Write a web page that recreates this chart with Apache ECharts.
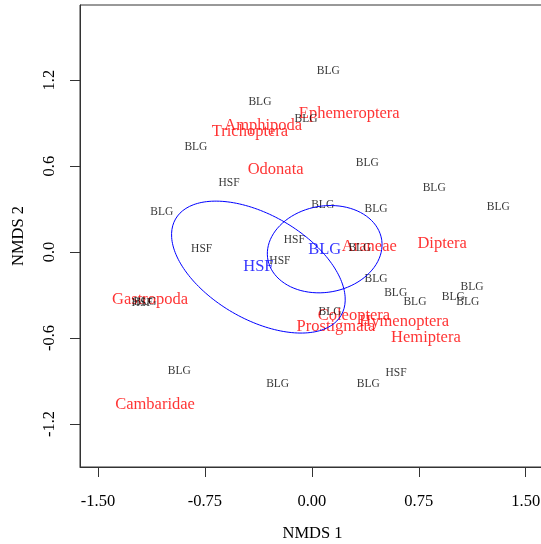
<!DOCTYPE html>
<html><head><meta charset="utf-8">
<script src="https://cdn.jsdelivr.net/npm/echarts@6/dist/echarts.min.js"></script>
<style>html,body{margin:0;padding:0;background:#fff}#c{width:541px;height:544px}</style>
</head><body><div id="c"></div>
<script>
// ---- data (NMDS scores) ----
const xTicks = [-1.5, -0.75, 0, 0.75, 1.5];
const yTicks = [-1.2, -0.6, 0, 0.6, 1.2];

const siteNames = ['BLG','BLG','BLG','BLG','HSF','BLG','BLG','BLG','BLG','BLG','BLG','HSF','HSF','HSF','BLG','BLG','BLG','BLG','BLG','BLG','BLG','BLG','BLG','HSF','BLG','BLG','BLG','HSF'];
const siteX = [0.115,-0.364,-0.041,-0.813,-0.581,0.389,0.858,1.307,0.076,0.450,-1.053,-0.773,-0.123,-0.224,0.337,0.450,0.588,0.723,0.992,1.123,1.093,0.127,-1.170,-1.190,-0.930,-0.240,0.396,0.590];
const siteY = [1.263,1.047,0.928,0.735,0.484,0.623,0.447,0.316,0.328,0.298,0.277,0.021,0.082,-0.061,0.026,-0.191,-0.288,-0.349,-0.312,-0.246,-0.349,-0.417,-0.350,-0.355,-0.828,-0.923,-0.921,-0.842];

const speciesNames = ['Ephemeroptera','Amphipoda','Trichoptera','Odonata','Araneae','Diptera','Gastropoda','Coleoptera','Prostigmata','Hymenoptera','Hemiptera','Cambaridae'];
const speciesX = [0.262,-0.341,-0.434,-0.254,0.403,0.914,-1.135,0.295,0.169,0.648,0.800,-1.100];
const speciesY = [0.963,0.879,0.839,0.572,0.037,0.056,-0.335,-0.445,-0.521,-0.486,-0.598,-1.068];

const groupNames = ['HSF','BLG'];
const groupX = [-0.375, 0.090];
const groupY = [-0.105, 0.020];
// ellipse parameters per group: semi-axes and rotation (degrees)
const ellipseA = [0.671, 0.405];
const ellipseB = [0.364, 0.301];
const ellipseAngle = [-30, 10];

// ---- chart ----
const FONT = '"Liberation Serif","Times New Roman",serif';
const chart = echarts.init(document.getElementById('c'), null, {renderer:'canvas'});

function ellipsePoints(g){
  const pts = [];
  const th = ellipseAngle[g] * Math.PI / 180;
  const n = 180;
  for (let i = 0; i <= n; i++){
    const t = 2 * Math.PI * i / n;
    const u = ellipseA[g] * Math.cos(t), v = ellipseB[g] * Math.sin(t);
    pts.push([groupX[g] + u*Math.cos(th) - v*Math.sin(th), groupY[g] + u*Math.sin(th) + v*Math.cos(th)]);
  }
  return pts;
}

function textSeries(names, xs, ys, color, size, z){
  return {
    type:'scatter', z:z, silent:true, symbolSize:1,
    itemStyle:{color:'rgba(0,0,0,0)'},
    data: names.map((n,i)=>({name:n, value:[xs[i], ys[i]]})),
    label:{show:true, position:'inside', formatter:p=>p.name, color:color, offset:[0,1.5],
           fontFamily:FONT, fontSize:size, align:'center', verticalAlign:'middle'},
    labelLayout:{hideOverlap:false},
    emphasis:{disabled:true}
  };
}

const series = [
  textSeries(speciesNames, speciesX, speciesY, '#FF0000', 16.5, 2),
  textSeries(siteNames, siteX, siteY, '#000000', 11.5, 3)
];
groupNames.forEach((g,i)=>{
  series.push({type:'line', z:4, silent:true, showSymbol:false, symbol:'none',
    data: ellipsePoints(i), lineStyle:{color:'#0000FF', width:1}, emphasis:{disabled:true}});
});
series.push(textSeries(groupNames, groupX, groupY, '#0000FF', 16.5, 5));

chart.setOption({
  animation:false,
  backgroundColor:'#fff',
  grid:{left:80, top:5, width:465, height:462, show:true, borderColor:'#333', borderWidth:1,
        containLabel:false, outerBoundsMode:'none'},
  xAxis:{
    type:'value', min:-1.626, max:1.635,
    axisLine:{show:true, onZero:false, lineStyle:{color:'#333', width:1}},
    axisTick:{show:true, length:10, customValues:xTicks, lineStyle:{color:'#333'}},
    axisLabel:{customValues:xTicks, formatter:v=>Number(v).toFixed(2), color:'#000', fontFamily:FONT, fontSize:16.5, margin:26},
    splitLine:{show:false},
    name:'NMDS 1', nameLocation:'middle', nameGap:58,
    nameTextStyle:{color:'#000', fontFamily:FONT, fontSize:16.5}
  },
  yAxis:{
    type:'value', min:-1.500, max:1.724,
    axisLine:{show:true, onZero:false, lineStyle:{color:'#333', width:1}},
    axisTick:{show:true, length:10, customValues:yTicks, lineStyle:{color:'#333'}},
    axisLabel:{customValues:yTicks, rotate:90, formatter:v=>Number(v).toFixed(1), color:'#000', fontFamily:FONT, fontSize:16.5, margin:22},
    splitLine:{show:false},
    name:'NMDS 2', nameLocation:'middle', nameGap:53,
    nameTextStyle:{color:'#000', fontFamily:FONT, fontSize:16.5}
  },
  series: series
});
</script></body></html>
